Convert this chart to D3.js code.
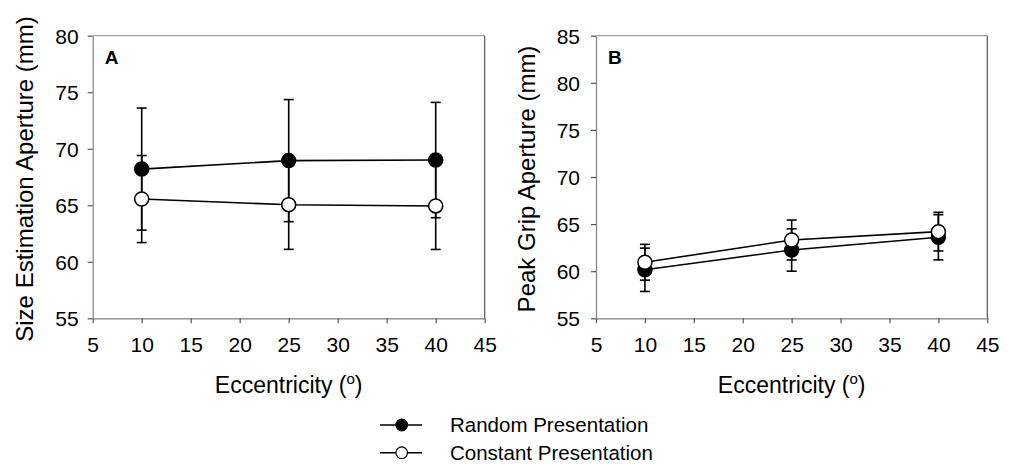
<!DOCTYPE html>
<html>
<head>
<meta charset="utf-8">
<script src="https://cdn.jsdelivr.net/npm/d3@7"></script>
<style>
  html, body { margin: 0; padding: 0; background: #fff; }
  svg { display: block; }
  text { font-family: Arial, "Liberation Sans", sans-serif; fill: #000; }
</style>
</head>
<body>
<svg id="chart" width="1013" height="464"></svg>
<script>
// ---- Data ----
const eccentricity = [10, 25, 40];
const xTicks = [5, 10, 15, 20, 25, 30, 35, 40, 45];

// Panel A: Size Estimation Aperture (mm)
const sizeRandom = [68.2, 68.95, 69.0];
const sizeRandomErr = [5.4, 5.4, 5.1];
const sizeConstant = [65.55, 65.05, 64.94];
const sizeConstantErr = [3.85, 3.95, 3.85];
const yTicksA = [55, 60, 65, 70, 75, 80];

// Panel B: Peak Grip Aperture (mm)
const gripRandom = [60.15, 62.25, 63.6];
const gripRandomErr = [2.3, 2.25, 2.4];
const gripConstant = [60.95, 63.31, 64.2];
const gripConstantErr = [1.9, 2.12, 2.05];
const yTicksB = [55, 60, 65, 70, 75, 80, 85];

const seriesNames = ["Random Presentation", "Constant Presentation"];

// ---- Drawing ----
const svg = d3.select("#chart");
const plotTop = 35.7, plotBottom = 318.3;

function panel(opts) {
  const x = d3.scaleLinear().domain([5, 45]).range([opts.left, opts.right]);
  const y = d3.scaleLinear().domain([opts.yTicks[0], opts.yTicks[opts.yTicks.length - 1]]).range([plotBottom, plotTop]);
  const g = svg.append("g");

  // frame top & right
  g.append("line").attr("x1", opts.left).attr("x2", opts.right).attr("y1", plotTop).attr("y2", plotTop)
    .attr("stroke", "#a0a0a0").attr("stroke-width", 1.2);
  g.append("line").attr("x1", opts.right).attr("x2", opts.right).attr("y1", plotTop).attr("y2", plotBottom)
    .attr("stroke", "#555").attr("stroke-width", 1.2);

  // axes
  const xAxis = g.append("g").attr("transform", `translate(0,${plotBottom})`)
    .call(d3.axisBottom(x).tickValues(xTicks).tickSize(5).tickPadding(14).tickSizeOuter(0));
  const yAxis = g.append("g").attr("transform", `translate(${opts.left},0)`)
    .call(d3.axisLeft(y).tickValues(opts.yTicks).tickSize(5).tickPadding(opts.yPad).tickSizeOuter(0));
  [xAxis, yAxis].forEach(a => {
    a.select(".domain").attr("stroke", "#808080").attr("stroke-width", 1.2);
    a.selectAll(".tick line").attr("stroke", "#555").attr("stroke-width", 1.2);
    a.selectAll(".tick text").attr("font-size", 21).attr("font-family", "Arial, 'Liberation Sans', sans-serif").attr("fill", "#000");
  });
  xAxis.selectAll(".tick text").attr("dy", "0.71em");
  yAxis.selectAll(".tick text").attr("dy", "0.36em");

  // axis titles
  const xt = g.append("text").attr("x", (opts.left + opts.right) / 2).attr("y", 392.5)
    .attr("text-anchor", "middle").attr("font-size", 23);
  xt.append("tspan").text("Eccentricity (");
  xt.append("tspan").attr("font-size", 15).attr("dy", -9).text("o");
  xt.append("tspan").attr("dy", 9).text(")");

  g.append("text").attr("transform", `translate(${opts.yLabelX},${(plotTop + plotBottom) / 2 + 2}) rotate(-90)`)
    .attr("text-anchor", "middle").attr("font-size", 24).text(opts.yLabel);

  // panel letter
  g.append("text").attr("x", opts.left + 12).attr("y", 64).attr("font-size", 19)
    .attr("font-weight", "bold").text(opts.letter);

  const series = [
    { vals: opts.random, err: opts.randomErr, fill: "#000" },
    { vals: opts.constant, err: opts.constantErr, fill: "#fff" }
  ];

  // error bars
  series.forEach(s => {
    const eb = g.append("g").attr("stroke", "#000").attr("stroke-width", 1.6);
    eccentricity.forEach((e, i) => {
      const cx = x(e), y1 = y(s.vals[i] + s.err[i]), y2 = y(s.vals[i] - s.err[i]);
      eb.append("line").attr("x1", cx).attr("x2", cx).attr("y1", y1).attr("y2", y2);
      eb.append("line").attr("x1", cx - 5).attr("x2", cx + 5).attr("y1", y1).attr("y2", y1);
      eb.append("line").attr("x1", cx - 5).attr("x2", cx + 5).attr("y1", y2).attr("y2", y2);
    });
  });

  // lines
  const line = d3.line().x((d, i) => x(eccentricity[i])).y(d => y(d));
  series.forEach(s => {
    g.append("path").attr("d", line(s.vals)).attr("fill", "none").attr("stroke", "#000").attr("stroke-width", 1.6);
  });

  // markers
  series.forEach(s => {
    g.selectAll(null).data(s.vals).enter().append("circle")
      .attr("cx", (d, i) => x(eccentricity[i])).attr("cy", d => y(d)).attr("r", 7)
      .attr("fill", s.fill).attr("stroke", "#000").attr("stroke-width", 1.5);
  });
}

panel({ left: 92.7, right: 484.7, yTicks: yTicksA, yPad: 9, yLabelX: 33, yLabel: "Size Estimation Aperture (mm)",
  letter: "A", random: sizeRandom, randomErr: sizeRandomErr, constant: sizeConstant, constantErr: sizeConstantErr });
panel({ left: 596, right: 987.3, yTicks: yTicksB, yPad: 11, yLabelX: 535, yLabel: "Peak Grip Aperture (mm)",
  letter: "B", random: gripRandom, randomErr: gripRandomErr, constant: gripConstant, constantErr: gripConstantErr });

// legend
const legend = svg.append("g");
const fills = ["#000", "#fff"];
const legY = [425, 452.7];
seriesNames.forEach((name, i) => {
  legend.append("line").attr("x1", 380).attr("x2", 422).attr("y1", legY[i]).attr("y2", legY[i])
    .attr("stroke", "#000").attr("stroke-width", 1.5);
  legend.append("circle").attr("cx", 401.7).attr("cy", legY[i]).attr("r", 5.8)
    .attr("fill", fills[i]).attr("stroke", "#000").attr("stroke-width", 1.2);
  legend.append("text").attr("x", 450).attr("y", legY[i]).attr("dy", "0.36em")
    .attr("font-size", 20.5).text(name);
});
</script>
</body>
</html>
